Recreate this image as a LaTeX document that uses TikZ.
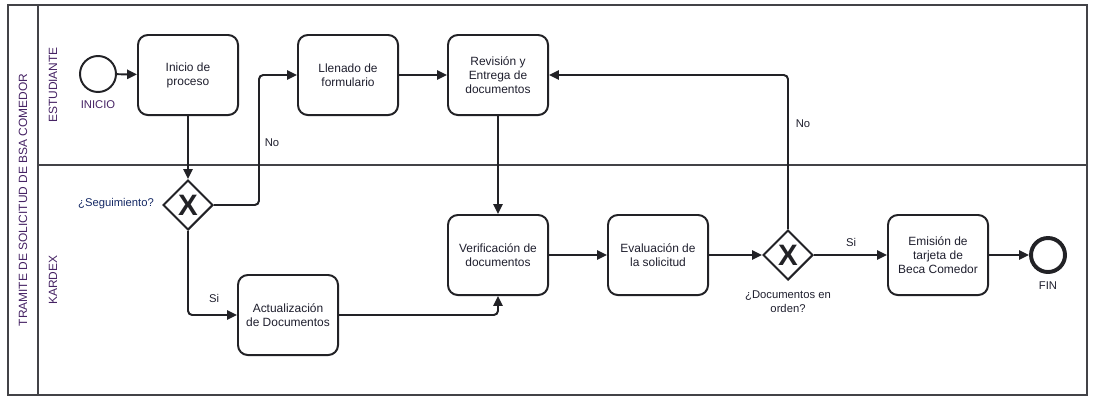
\documentclass[tikz,border=0pt]{standalone}
\usepackage{fontspec}
\setmainfont{Liberation Sans}
\usetikzlibrary{shapes.geometric,arrows.meta}
\tikzset{>={Triangle[length=7pt,width=6.5pt]}}

\begin{document}
\begin{tikzpicture}[x=0.025cm,y=-0.025cm,
  task/.style={draw=linegray,line width=1.4pt,rounded corners=7pt,minimum width=2.5cm,
    minimum height=2cm,align=center,text=txtgray,font=\fontsize{8.5}{10}\selectfont},
  gate/.style={diamond,draw=linegray,line width=1.4pt,minimum width=1.25cm,minimum height=1.25cm,
    inner sep=0pt,text=linegray,font=\fontsize{21}{21}\selectfont\bfseries},
  startev/.style={circle,draw=linegray,line width=1.4pt,minimum size=0.9cm,inner sep=0pt},
  endev/.style={circle,draw=linegray,line width=2.8pt,minimum size=0.85cm,inner sep=0pt},
  flow/.style={->,draw=linegray,line width=1.4pt,rounded corners=3pt},
  lbl/.style={text=txtgray,align=center,font=\fontsize{8}{10}\selectfont},
  lanelbl/.style={rotate=90,text=lanepurple,font=\fontsize{8.5}{10}\selectfont}]
      \definecolor{linegray}{RGB}{34,34,38}
      \definecolor{txtgray}{RGB}{30,30,45}
      \definecolor{lanepurple}{RGB}{70,35,100}
      \definecolor{askblue}{RGB}{20,40,100}
\useasboundingbox (0,0) rectangle (1096,404);

% pool and lanes
\draw[draw=linegray!85,line width=1.1pt] (8,5) rectangle (1087,395);
\draw[draw=linegray!85,line width=1.1pt] (38,5) -- (38,395);
\draw[draw=linegray!85,line width=1.1pt] (38,165) -- (1087,165);
\node[lanelbl] (pool) at (23,200) {TRAMITE DE SOLICITUD DE BSA COMEDOR};
\node[lanelbl] (lane1) at (53,85) {ESTUDIANTE};
\node[lanelbl] (lane2) at (53,280) {KARDEX};

% events, tasks and gateways
\node[startev] (inicio) at (98,74) {};
\node[lbl,text=lanepurple] (inicioL) at (98,105) {INICIO};
\node[task] (proceso) at (188,75) {Inicio de\\proceso};
\node[task] (llenado) at (348,75) {Llenado de\\formulario};
\node[task] (revision) at (498,75) {Revisión y\\Entrega de\\documentos};
\node[gate] (seguim) at (188,205) {X};
\node[lbl,text=askblue] (seguimL) at (116,204) {¿Seguimiento?};
\node[task] (actual) at (288,315) {Actualización\\de Documentos};
\node[task] (verif) at (498,255) {Verificación de\\documentos};
\node[task] (evalua) at (658,255) {Evaluación de\\la solicitud};
\node[gate] (docs) at (788,255) {X};
\node[lbl] (docsL) at (788,302) {¿Documentos en\\orden?};
\node[task] (emision) at (938,255) {Emisión de\\tarjeta de\\Beca Comedor};
\node[endev] (fin) at (1048,255) {};
\node[lbl] (finL) at (1048,286) {FIN};

% sequence flows
\draw[flow] (inicio) -- (proceso);
\draw[flow] (proceso) -- (seguim);
\draw[flow] (seguim.east) -- ++(45,0) |- (llenado.west);
\draw[flow] (seguim.south) |- (actual.west);
\draw[flow] (llenado) -- (revision);
\draw[flow] (revision) -- (verif);
\draw[flow] (actual.east) -| (verif.south);
\draw[flow] (verif) -- (evalua);
\draw[flow] (evalua) -- (docs);
\draw[flow] (docs.north) |- (revision.east);
\draw[flow] (docs) -- (emision);
\draw[flow] (emision) -- (fin);

% flow labels
\node[lbl] (no1) at (272,143) {No};
\node[lbl] (si1) at (214,298) {Si};
\node[lbl] (no2) at (803,124) {No};
\node[lbl] (si2) at (851,242) {Si};
\end{tikzpicture}
\end{document}
